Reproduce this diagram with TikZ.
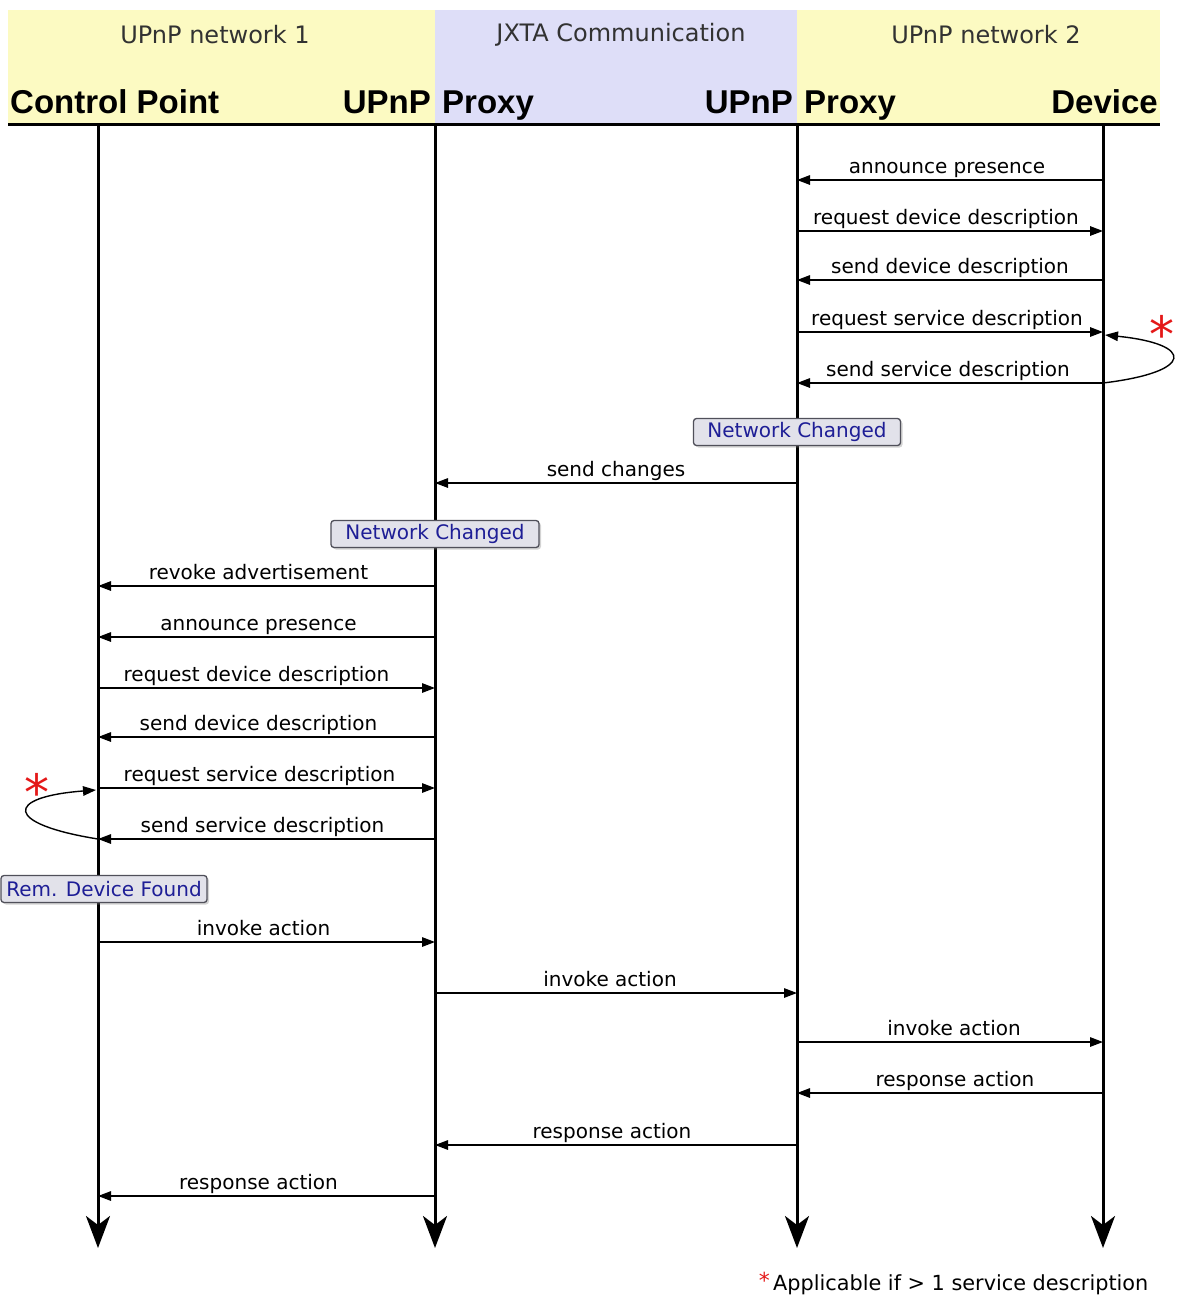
\documentclass[tikz,border=0pt]{standalone}
\usepackage{fontspec}
\setmainfont{DejaVu Sans}
\newfontfamily\rolefont{Liberation Sans}
\usetikzlibrary{arrows.meta,shadows}

\definecolor{bandyellow}{RGB}{252,250,194}
\definecolor{bandblue}{RGB}{222,222,248}
\definecolor{notefill}{RGB}{226,226,234}
\definecolor{noteedge}{RGB}{80,80,90}
\definecolor{notetext}{RGB}{30,30,150}
\definecolor{starred}{RGB}{228,24,24}
\definecolor{titlegray}{RGB}{50,50,50}

\tikzset{
  bandtitle/.style={text=titlegray, font=\fontsize{24}{28}\selectfont, inner sep=0pt},
  role/.style={font=\rolefont\bfseries\fontsize{33}{38}\selectfont, inner sep=0pt},
  life/.style={line width=3pt, -{Stealth[length=32pt,width=24pt,inset=9pt]}},
  msg/.style={line width=1.4pt, -{Triangle[length=13pt,width=9.5pt]}},
  lbl/.style={font=\fontsize{20}{22}\selectfont, inner sep=0pt, text depth=0pt, above=6pt},
  note/.style={draw=noteedge, fill=notefill, line width=1.3pt, rounded corners=3pt,
    text=notetext, font=\fontsize{20}{24}\selectfont, minimum height=27pt,
    inner xsep=0pt, inner ysep=0pt,
    drop shadow={shadow xshift=2pt, shadow yshift=-2pt, opacity=0.35}},
  star/.style={text=starred, font=\fontsize{50}{54}\selectfont, inner sep=0pt, anchor=base}
}

% one message: [label options] from lifeline, to lifeline, height, label
\newcommand\msg[5][]{%
  \coordinate (y#4) at (0,#4);
  \draw[msg] (#2 |- y#4) -- (#3 |- y#4) node[lbl,midway,#1] {#5};}

\begin{document}
\begin{tikzpicture}[x=1pt,y=-1pt]
\useasboundingbox (0,0) rectangle (1176,1304);

% header bands
\fill[bandyellow] (8,10) rectangle (435,124);
\fill[bandblue]   (435,10) rectangle (797,124);
\fill[bandyellow] (797,10) rectangle (1160,124);

\node[bandtitle] (net1) at (215,35) {UPnP network 1};
\node[bandtitle] (jxta) at (621,35) {JXTA Communication};
\node[bandtitle] (net2) at (986,35) {UPnP network 2};

\node[role, anchor=base west] (cpname)  at (10,113)  {Control Point};
\node[role, anchor=base east] (upnp1)   at (431,113) {UPnP};
\node[role, anchor=base west] (proxy1)  at (442,113) {Proxy};
\node[role, anchor=base east] (upnp2)   at (793,113) {UPnP};
\node[role, anchor=base west] (proxy2)  at (804,113) {Proxy};
\node[role, anchor=base east] (devname) at (1158,113) {Device};

\draw[line width=3pt] (8,124) -- (1160,124);

% lifelines
\coordinate (cp)  at (98,124);
\coordinate (px1) at (435,124);
\coordinate (px2) at (797,124);
\coordinate (dev) at (1103,124);
\coordinate (cpE)  at (98,1248);
\coordinate (px1E) at (435,1248);
\coordinate (px2E) at (797,1248);
\coordinate (devE) at (1103,1248);
\draw[life] (cp) -- (cpE);
\draw[life] (px1) -- (px1E);
\draw[life] (px2) -- (px2E);
\draw[life] (dev) -- (devE);

% discovery in network 2
\msg[xshift=-3pt]{dev}{px2}{180}{announce presence}
\msg[xshift=-4pt]{px2}{dev}{231}{request device description}
\msg{dev}{px2}{280}{send device description}
\msg[xshift=-3pt]{px2}{dev}{332}{request service description}
\msg[xshift=-2pt]{dev}{px2}{383}{send service description}
\coordinate (y335) at (0,335);
\draw[msg] (dev |- y383) .. controls (1195,372) and (1195,344) .. ([xshift=2pt]dev |- y335);
\node[star] (star2) at (1162,352) {*};

\node[note, minimum width=207pt] (chg2) at (797,432) {Network Changed};
\msg{px2}{px1}{483}{send changes}
\node[note, minimum width=208pt] (chg1) at (435,534) {Network Changed};

% discovery in network 1
\msg[xshift=-8pt]{px1}{cp}{586}{revoke advertisement}
\msg[xshift=-8pt]{px1}{cp}{637}{announce presence}
\msg[xshift=-10pt]{cp}{px1}{688}{request device description}
\msg[xshift=-8pt]{px1}{cp}{737}{send device description}
\msg[xshift=-7pt]{cp}{px1}{788}{request service description}
\msg[xshift=-4pt]{px1}{cp}{839}{send service description}
\coordinate (y790) at (0,790);
\draw[msg] (cp |- y839) .. controls (4,824) and (4,797) .. ([xshift=-2pt]cp |- y790);
\node[star] (star1) at (37,810) {*};

\node[note, minimum width=206pt] (found) at (104,889) {Rem. Device Found};

% action invocation
\msg[xshift=-3pt]{cp}{px1}{942}{invoke action}
\msg[xshift=-6pt]{px1}{px2}{993}{invoke action}
\msg[xshift=4pt]{px2}{dev}{1042}{invoke action}
\msg[xshift=5pt]{dev}{px2}{1093}{response action}
\msg[xshift=-4pt]{px2}{px1}{1145}{response action}
\msg[xshift=-8pt]{px1}{cp}{1196}{response action}

% footnote
\node[font=\fontsize{20.8}{24}\selectfont, inner sep=0pt, anchor=base west] (fn) at (773,1290) {Applicable if > 1 service description};
\node[text=starred, font=\fontsize{22}{24}\selectfont, inner sep=0pt, anchor=base east] (fnstar) at ([xshift=-3pt,yshift=2pt]fn.base west) {*};
\end{tikzpicture}
\end{document}
